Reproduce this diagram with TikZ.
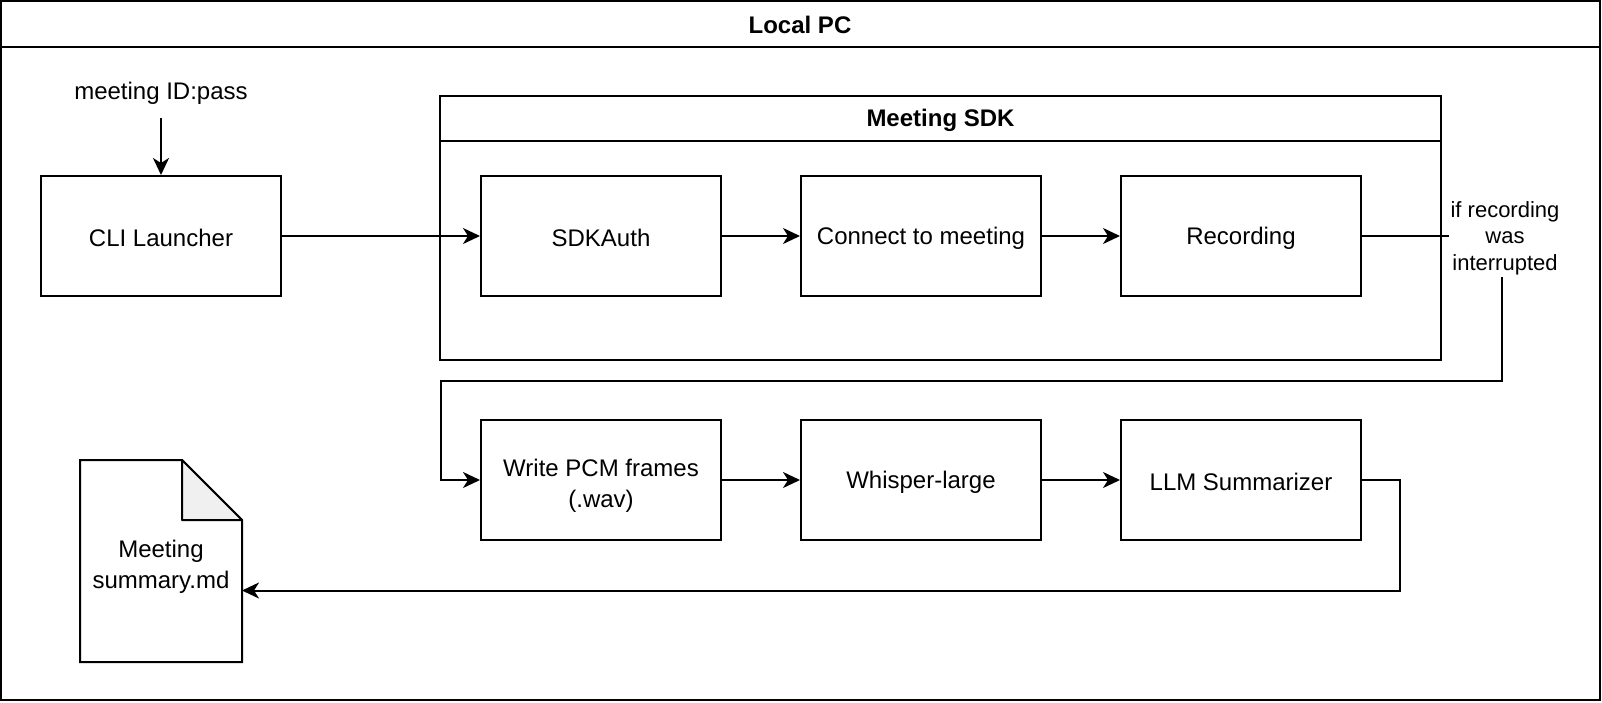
\documentclass[tikz,border=0pt]{standalone}
\usepackage{fontspec}
\setmainfont{Liberation Sans}
\usepackage{xcolor}
\usepackage{tikz}
\usetikzlibrary{positioning,arrows.meta}
\definecolor{foldgray}{RGB}{240,240,240}

\begin{document}
\begin{tikzpicture}[x=0.5pt,y=-0.5pt,line width=1pt,
    font=\fontsize{12}{15.5}\selectfont,
    >={Stealth[length=8.5pt,width=8pt,inset=2.5pt]},
    box/.style={draw,minimum width=120pt,minimum height=60pt,align=center,inner sep=2pt},
    stage/.style={box,text height=11pt},
    twoline/.style={text height=29.8pt},
    title/.style={font=\fontsize{12}{15}\selectfont\bfseries}]
  \useasboundingbox (0,0) rectangle (1602,702);
  % outer container
  \draw (1,1) rectangle (1600,700);
  \draw (1,47) -- (1600,47);
  \node[title] (localpc) at (800,25) {Local PC};
  % sdk container
  \draw (440,96) rectangle (1441,360);
  \draw (440,141) -- (1441,141);
  \node[title] (sdk) at (940.5,120.5) {Meeting SDK};
  % stages
  \node (creds) at (161,93) {meeting ID:pass};
  \node[stage] (cli) at (161,236) {CLI Launcher};
  \node[stage] (auth) at (601,236) {SDKAuth};
  \node[stage] (connect) at (921,236) {Connect to meeting};
  \node[stage] (record) at (1241,236) {Recording};
  \node[box,twoline] (pcm) at (601,480) {Write PCM frames\\(.wav)};
  \node[stage] (whisper) at (921,480) {Whisper-large};
  \node[stage] (llm) at (1241,480) {LLM Summarizer};
  % output document
  \node[twoline,minimum width=80pt,minimum height=100pt,align=center] (summary) at (161,561) {Meeting\\summary.md};
  \draw (summary.south west) -- (summary.north west) -- ([xshift=-30pt]summary.north east)
    -- ([yshift=-30pt]summary.north east) -- (summary.south east) -- cycle;
  \draw[fill=foldgray,line join=round] ([xshift=-30pt]summary.north east)
    -- ([xshift=-30pt,yshift=-30pt]summary.north east) -- ([yshift=-30pt]summary.north east) -- cycle;
  % flow
  \draw[->,shorten <=3pt] (creds) -- (cli);
  \draw[->] (cli) -- (auth);
  \draw[->] (auth) -- (connect);
  \draw[->] (connect) -- (record);
  \coordinate (wrapR) at (1502,381);
  \coordinate (wrapL) at (441,381);
  \draw[->] (record.east) -| (wrapR) -- (wrapL) |- (pcm.west);
  \node[fill=white,align=center,inner sep=1pt,font=\fontsize{11}{13.2}\selectfont] (interrupt) at (1505,238) {if recording\\was\\interrupted};
  \draw[->] (pcm) -- (whisper);
  \draw[->] (whisper) -- (llm);
  \coordinate (drop) at (1400,590.5);
  \draw[->] (llm.east) -| (drop) -- (summary.east |- drop);
\end{tikzpicture}
\end{document}
